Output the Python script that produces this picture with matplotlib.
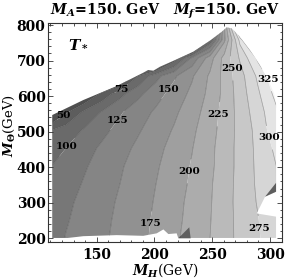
import numpy as np
import matplotlib
matplotlib.use('Agg')
import matplotlib.pyplot as plt
from matplotlib.patches import Polygon
from matplotlib.ticker import MultipleLocator

plt.rcParams['font.family'] = ['DejaVu Serif']
plt.rcParams['font.weight'] = 'bold'
plt.rcParams['mathtext.fontset'] = 'custom'
plt.rcParams['mathtext.rm'] = 'DejaVu Serif:bold'
plt.rcParams['mathtext.it'] = 'DejaVu Serif:italic:bold'
plt.rcParams['mathtext.bf'] = 'DejaVu Serif:bold'

# ---- data ----
mh = [111, 123.4, 139, 154.5, 170.1, 185.7, 201.3, 216.9, 232.5, 248.1, 260.5, 274, 289.6, 306.2]
mtheta = [201, 251.5, 302, 352.7, 403.4, 454, 504.6, 555.3, 606, 656.5, 707, 758, 808.4]
t_r0 = [115, 126, 136, 146, 156, 168, 180, 195, 210, 225, 241, 256, 272, 296]
t_r1 = [111, 123, 133, 144, 155, 166, 179, 193, 208, 224, 240, 257, 274, 298]
t_r2 = [107, 120, 131, 142, 153, 165, 177, 191, 207, 223, 240, 258, 277, 300]
t_r3 = [103, 114, 127, 139, 150, 162, 175, 189, 204, 222, 239, 258, 279, 301]
t_r4 = [100, 110, 122, 135, 147, 160, 172, 187, 202, 220, 237, 258, 280, 301]
t_r5 = [87, 100, 115, 129, 141, 155, 168, 183, 199, 219, 237, 258, 281, 307]
t_r6 = [75, 87, 102, 118, 133, 147, 162, 177, 195, 216, 235, 258, 283, 319]
t_r7 = [10, 45, 80, 102, 122, 138, 154, 170, 189, 212, 234, 259, 289, 322]
t_r8 = [-100, -50, 15, 57, 92, 119, 140, 160, 181, 207, 232, 262, 296, 335]
t_r9 = [-150, -120, -80, -40, 0, 75, 117, 146, 172, 204, 233, 265, 305, 350]
t_r10 = [-200, -170, -140, -110, -85, -60, -30, 56, 131, 189, 234, 278, 331, 380]
t_r11 = [-250, -220, -200, -180, -160, -140, -120, -110, -100, 75, 195, 308, 450, 500]
t_r12 = [-300, -280, -260, -240, -220, -200, -180, -160, -150, -50, 200, 450, 600, 700]

levels = [50, 75, 100, 125, 150, 175, 200, 225, 250, 275, 300, 325]
band_grays = [0.31, 0.365, 0.415, 0.465, 0.52, 0.57, 0.625, 0.675, 0.73, 0.785, 0.84, 0.895, 0.955]

# outline of the region where the solution exists
region_mh = [111.5, 122.5, 138.4, 167.3, 190.3, 201.9, 207.7, 212, 219.2, 220.6, 305.2,
             305.2, 288.5, 295.7, 305.2, 305.2,
             303.5, 298.5, 291.3, 282.7, 274, 266.8, 262.5, 258.2, 248, 233.6,
             219.2, 204.8, 199, 194.6, 190.3, 167.3, 138.4, 111.5]
region_mth = [200, 200, 206, 209, 207, 214, 225, 212, 214, 200, 200,
              261, 270, 317, 331, 580,
              608, 645, 687.5, 729.7, 767, 790.7, 793.5, 781, 756, 725,
              703.5, 682.7, 671.5, 673.4, 665.9, 628.4, 589, 546.8]
# small dark artefacts
wedge1_mh = [220.6, 230.1, 231.3]
wedge1_mth = [200, 231, 200]
wedge2_mh = [295.7, 305.2, 305.2]
wedge2_mth = [317, 356, 331]

label_mh = [121.4, 171.7, 123.2, 168.6, 212, 200.4, 227.9, 253.8, 266.8, 294.2, 295.1, 294.8]
label_mth = [545, 619, 460, 530, 619, 240, 390, 549.6, 678, 230, 478.5, 642.5]

T = np.array([t_r0, t_r1, t_r2, t_r3, t_r4, t_r5, t_r6, t_r7,
              t_r8, t_r9, t_r10, t_r11, t_r12], dtype=float)

fig = plt.figure(figsize=(2.9, 2.78), dpi=100)
ax = fig.add_axes([48.3/290, 35.7/278, 233.4/290, 219.6/278])

poly = Polygon(np.column_stack([region_mh, region_mth]), closed=True,
               facecolor='none', edgecolor='none')
ax.add_patch(poly)

fill_levels = [-1000] + levels + [1000]
colors = [(g, g, g) for g in band_grays]
cf = ax.contourf(mh, mtheta, T, levels=fill_levels, colors=colors, antialiased=True)
cf.set_clip_path(poly)

for lev, x, y in zip(levels, label_mh, label_mth):
    cs = ax.contour(mh, mtheta, T, levels=[lev], colors=[(0.15, 0.15, 0.15, 0.4)],
                    linewidths=0.5)
    cs.set_clip_path(poly)
    txts = cs.clabel([lev], manual=[(x, y)], inline=True, inline_spacing=1,
                     fmt='%d', fontsize=7.5, colors='k')
    for t in txts:
        t.set_rotation(0)

ax.add_patch(Polygon(np.column_stack([wedge1_mh, wedge1_mth]), closed=True,
                     facecolor='#5e5e5e', edgecolor='none'))
ax.add_patch(Polygon(np.column_stack([wedge2_mh, wedge2_mth]), closed=True,
                     facecolor='#5e5e5e', edgecolor='none'))

ax.set_xlim(108.1, 310.1)
ax.set_ylim(188.8, 806.5)
ax.xaxis.set_major_locator(MultipleLocator(50))
ax.xaxis.set_minor_locator(MultipleLocator(10))
ax.yaxis.set_major_locator(MultipleLocator(100))
ax.yaxis.set_minor_locator(MultipleLocator(20))
ax.tick_params(which='both', direction='in', top=True, right=True, width=0.6,
               labelsize=10, color='#333333')
ax.tick_params(which='major', length=3.5)
ax.tick_params(axis='x', which='major', pad=4)
ax.tick_params(axis='y', which='major', pad=2)
ax.tick_params(which='minor', length=1.8)
for s in ax.spines.values():
    s.set_linewidth(0.8)
    s.set_color('#333333')

ax.set_title(r'$M_A$=150. GeV   $M_f$=150. GeV', fontsize=10.3, fontweight='bold', pad=6)
ax.set_xlabel(r'$M_H$(GeV)', fontsize=10)
ax.set_ylabel(r'$M_{\Theta}$(GeV)', fontsize=9.5)
ax.xaxis.set_label_coords(0.5, -0.085)
ax.yaxis.set_label_coords(-0.134, 0.53)
ax.xaxis.label.set_va('top')
ax.text(0.13, 0.905, r'$T_*$', transform=ax.transAxes, fontsize=11,
        ha='center', va='center')

fig.savefig('out.png', dpi=100)
